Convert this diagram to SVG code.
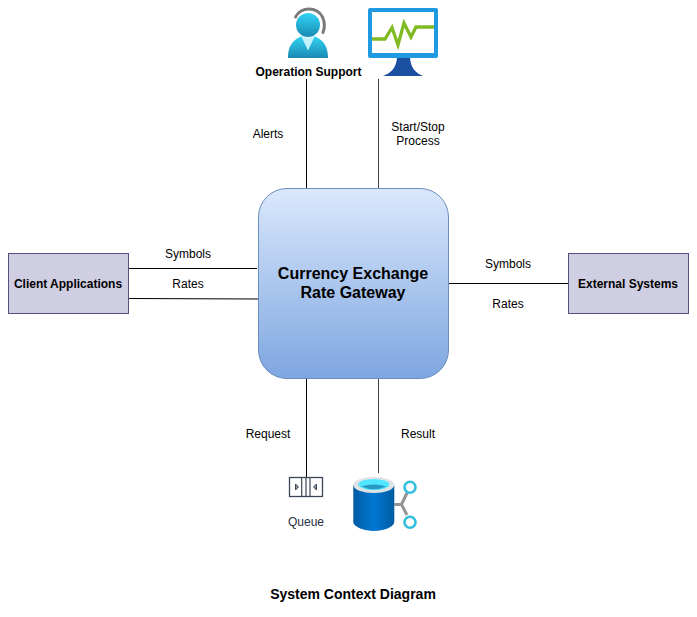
<svg xmlns="http://www.w3.org/2000/svg" width="697" height="617" viewBox="0 0 697 617">
<style>
text{font-family:"Liberation Sans",Arial,sans-serif;font-size:12px;fill:#000;text-anchor:middle}
.b{font-weight:bold}
.box{fill:#d0cee2;stroke:#56517e;stroke-width:1}
.c{stroke:#000;stroke-width:1;fill:none}
</style>
<defs>
<linearGradient id="g" x1="0" y1="0" x2="0" y2="1"><stop offset="0" stop-color="#dae8fc"/><stop offset="1" stop-color="#7ea6e0"/></linearGradient>
<linearGradient id="p" x1="0" y1="0" x2="0" y2="1"><stop offset="0" stop-color="#32d4f5"/><stop offset="1" stop-color="#198ab3"/></linearGradient>
<linearGradient id="d" x1="0" y1="0" x2="1" y2="0"><stop offset="0" stop-color="#005ba1"/><stop offset=".5" stop-color="#0078d4"/><stop offset="1" stop-color="#005ba1"/></linearGradient>
</defs>
<g id="connectors">
<path class="c" d="M306.500 79V188"/>
<path class="c" style="stroke:#444" d="M378.500 79V188"/>
<path class="c" d="M129 268.500H257"/>
<path class="c" d="M129 298.500L259 299"/>
<path class="c" d="M449 283.500H568"/>
<path class="c" d="M306.500 379V477"/>
<path class="c" style="stroke:#444" d="M378.500 379V473"/>
</g>
<g id="gateway">
<rect x="258.500" y="188.500" width="190" height="190" rx="28.500" fill="url(#g)" stroke="#6c8ebf"/>
<text class="b" x="353" y="279" style="font-size:16px">Currency Exchange</text>
<text class="b" x="353" y="298" style="font-size:16px">Rate Gateway</text>
</g>
<g id="client-applications">
<rect class="box" x="8.500" y="253.500" width="120" height="60"/>
<text class="b" x="68" y="288">Client Applications</text>
</g>
<g id="external-systems">
<rect class="box" x="568.500" y="253.500" width="120" height="60"/>
<text class="b" x="628" y="288">External Systems</text>
</g>
<g id="operation-support">
<path d="M295.500 17A15.500 15.500 0 0 1 322.500 17Q326 25 323 32.500" fill="none" stroke="#7a7a7a" stroke-width="3" stroke-linecap="round"/>
<circle cx="308" cy="25" r="12" fill="url(#p)"/>
<path d="M288 58C288 45 293 40 302 36L308 50L314 36C323 40 328 45 328 58Z" fill="url(#p)"/>
<path d="M301 36Q308 39 315 36L308 50Z" fill="#c3f1fb"/>
<text class="b" x="308.500" y="76">Operation Support</text>
</g>
<g id="monitor">
<path d="M397 56H410Q410 71 423 76H383Q397 71 397 56Z" fill="#1b50a0"/>
<rect x="368" y="8" width="70" height="50" rx="2" fill="#1f9ae0"/>
<rect x="372" y="12" width="62" height="41" fill="#fff"/>
<path d="M372 39H385L392 27.500L398 45L404 23L411 37L416 27H434" fill="none" stroke="#7fba22" stroke-width="3.300"/>
</g>
<g id="queue">
<rect x="289.500" y="477.500" width="33" height="19" fill="#fff" stroke="#3b4656" stroke-width="1.300"/>
<path d="M301.700 477.500V496.500M306 477.500V496.500M310 477.500V496.500" stroke="#3b4656" stroke-width="1.200"/>
<path d="M295.500 484V490L298.500 487ZM316.500 484V490L313.500 487Z" fill="#8a929c" stroke="#3b4656"/>
<text x="306" y="526" style="fill:#232f3e">Queue</text>
</g>
<g id="database">
<path d="M353.300 485V522C353.300 527 365 531 374 531C383 531 394.300 527 394.300 522V485Z" fill="url(#d)"/>
<ellipse cx="373.800" cy="485" rx="20.500" ry="8" fill="#dfe3e6"/>
<ellipse cx="373.800" cy="484.500" rx="15.500" ry="5.500" fill="#50e6ff"/>
<path d="M361 486.500Q373.800 482.500 386.500 486.500Q373.800 492 361 486.500Z" fill="#2a9ac4"/>
<path d="M394 504.500H401.500L407 493M401.500 504.500L407 515" fill="none" stroke="#949494" stroke-width="3"/>
<circle cx="410" cy="487.300" r="5.500" fill="#fff" stroke="#32bedd" stroke-width="2.600"/>
<circle cx="410" cy="522.300" r="5.500" fill="#fff" stroke="#32bedd" stroke-width="2.600"/>
</g>
<g id="labels">
<text x="268" y="138">Alerts</text>
<text x="418" y="131">Start/Stop</text>
<text x="418" y="145">Process</text>
<text x="188" y="258">Symbols</text>
<text x="188" y="288">Rates</text>
<text x="508" y="268">Symbols</text>
<text x="508" y="308">Rates</text>
<text x="268" y="438">Request</text>
<text x="418" y="438">Result</text>
<text class="b" x="353" y="599" style="font-size:14px">System Context Diagram</text>
</g>
</svg>
